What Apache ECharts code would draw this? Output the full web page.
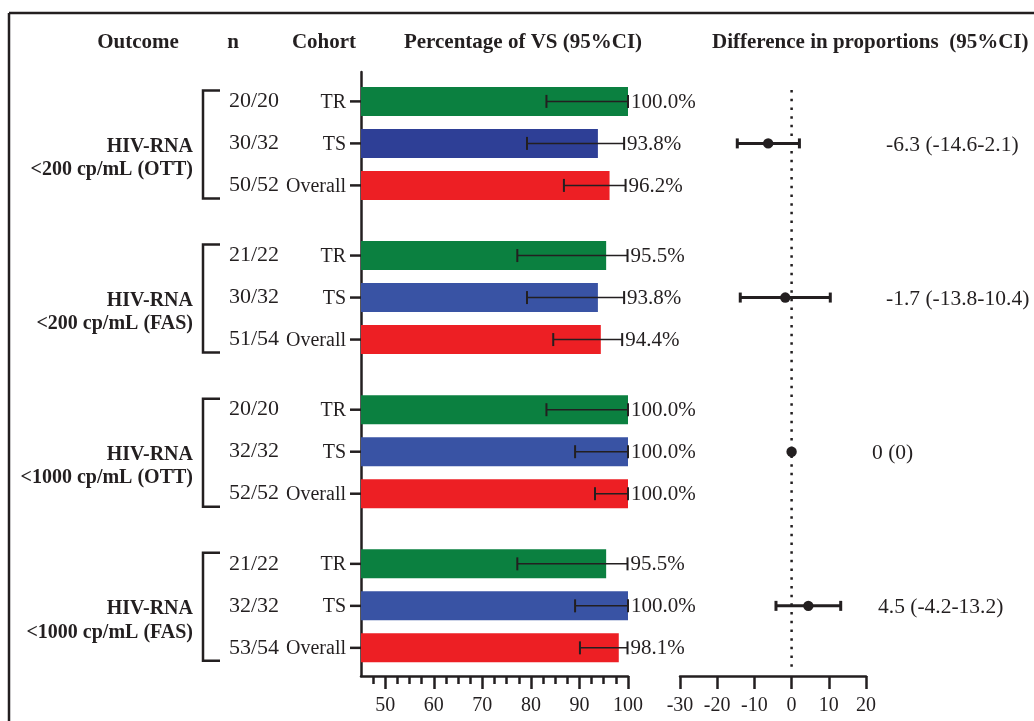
<!DOCTYPE html>
<html>
<head>
<meta charset="utf-8">
<script src="https://cdn.jsdelivr.net/npm/echarts@6/dist/echarts.min.js"></script>
<style>html,body{margin:0;padding:0;background:#fff;}#c{width:1034px;height:721px;}</style>
</head>
<body>
<div id="c"></div>
<script>
// ---------- data ----------
const outcomeLine1 = ['HIV-RNA', 'HIV-RNA', 'HIV-RNA', 'HIV-RNA'];
const outcomeLine2 = ['<200 cp/mL (OTT)', '<200 cp/mL (FAS)', '<1000 cp/mL (OTT)', '<1000 cp/mL (FAS)'];
const cohorts = ['TR', 'TS', 'Overall'];
const nLabels = [
  ['20/20', '30/32', '50/52'],
  ['21/22', '30/32', '51/54'],
  ['20/20', '32/32', '52/52'],
  ['21/22', '32/32', '53/54']
];
const pctVS = [
  [100.0, 93.8, 96.2],
  [95.5, 93.8, 94.4],
  [100.0, 100.0, 100.0],
  [95.5, 100.0, 98.1]
];
const pctLow = [
  [83.2, 79.2, 86.8],
  [77.2, 79.2, 84.6],
  [83.2, 89.1, 93.2],
  [77.2, 89.1, 90.1]
];
const pctHigh = [
  [100.0, 99.2, 99.5],
  [99.9, 99.2, 98.8],
  [100.0, 100.0, 100.0],
  [99.9, 100.0, 99.9]
];
const diffEst = [-6.3, -1.7, 0, 4.5];
const diffLow = [-14.6, -13.8, 0, -4.2];
const diffHigh = [2.1, 10.4, 0, 13.2];
const diffText = ['-6.3 (-14.6-2.1)', '-1.7 (-13.8-10.4)', '0 (0)', '4.5 (-4.2-13.2)'];
const pctTicks = [50, 60, 70, 80, 90, 100];
const pctMinorTicks = [47.5, 52.5, 55, 57.5, 62.5, 65, 67.5, 72.5, 75, 77.5, 82.5, 85, 87.5, 92.5, 95, 97.5];
const diffTicks = [-30, -20, -10, 0, 10, 20];
const headers = ['Outcome', 'n', 'Cohort', 'Percentage of VS (95%CI)', 'Difference in proportions  (95%CI)'];

// ---------- layout / style ----------
const INK = '#231f20';
const SERIF = '"Liberation Serif", "Times New Roman", serif';
const GROUP_STEP = 3.67;
const YMIN = -0.7, YMAX = 13.68;
const XMIN = 45;
const BAR_H = 29;
const cohortColors = [['#0b8040', '#2e3f96', '#ed1f24'],
                      ['#0b8040', '#3953a4', '#ed1f24'],
                      ['#0b8040', '#3953a4', '#ed1f24'],
                      ['#0b8040', '#3953a4', '#ed1f24']];
const diffLabelX = [886, 886, 872, 878];
const rowPos = (g, r) => g * GROUP_STEP + r;

// ---------- build series data ----------
const barData = [];
pctVS.forEach((grp, g) => grp.forEach((v, r) => {
  barData.push({ value: [v, rowPos(g, r), pctLow[g][r], pctHigh[g][r]], g: g, r: r });
}));
const groupData = outcomeLine2.map((t, g) => ({ value: [XMIN, rowPos(g, 0), rowPos(g, 2)], g: g }));
const forestData = diffEst.map((d, g) => ({ value: [d, rowPos(g, 1), diffLow[g], diffHigh[g]], g: g }));

const font = (size, bold) => (bold ? 'bold ' : '') + size + 'px ' + SERIF;

function renderBar(params, api) {
  const item = barData[params.dataIndex];
  const g = item.g, r = item.r;
  const v = api.value(0), pos = api.value(1), lo = api.value(2), hi = api.value(3);
  const p0 = api.coord([XMIN, pos]);
  const p1 = api.coord([v, pos]);
  const pl = api.coord([lo, pos]);
  const ph = api.coord([hi, pos]);
  const y = p0[1];
  return {
    type: 'group',
    children: [
      { type: 'rect', shape: { x: p0[0], y: y - BAR_H / 2, width: p1[0] - p0[0], height: BAR_H },
        style: { fill: cohortColors[g][r] } },
      { type: 'line', shape: { x1: pl[0], y1: y, x2: ph[0], y2: y }, style: { stroke: INK, lineWidth: 1.5 } },
      { type: 'line', shape: { x1: pl[0], y1: y - 6.5, x2: pl[0], y2: y + 6.5 }, style: { stroke: INK, lineWidth: 2 } },
      { type: 'line', shape: { x1: ph[0], y1: y - 6.5, x2: ph[0], y2: y + 6.5 }, style: { stroke: INK, lineWidth: 2 } },
      { type: 'text', style: { x: ph[0] + 3, y: y + 1, text: v.toFixed(1) + '%', fill: INK, font: font(21),
        align: 'left', verticalAlign: 'middle' } },
      // y-axis tick + cohort label + n label
      { type: 'line', shape: { x1: p0[0] - 11, y1: y, x2: p0[0], y2: y }, style: { stroke: INK, lineWidth: 2.5 } },
      { type: 'text', style: { x: p0[0] - 15, y: y + 1, text: cohorts[r], fill: INK, font: font(20),
        align: 'right', verticalAlign: 'middle' } },
      { type: 'text', style: { x: 229, y: y, text: nLabels[g][r], fill: INK, font: font(22),
        align: 'left', verticalAlign: 'middle' } }
    ]
  };
}

function renderGroup(params, api) {
  const g = groupData[params.dataIndex].g;
  const a = api.coord([XMIN, api.value(1)]);
  const b = api.coord([XMIN, api.value(2)]);
  const mid = (a[1] + b[1]) / 2;
  const top = a[1] - 11, bot = b[1] + 13;
  return {
    type: 'group',
    children: [
      { type: 'polyline', shape: { points: [[220, top], [203, top], [203, bot], [220, bot]] },
        style: { stroke: INK, lineWidth: 2.5, fill: null } },
      { type: 'text', style: { x: 193, y: mid + 3, text: outcomeLine1[g], fill: INK, font: font(20, true),
        align: 'right', verticalAlign: 'middle' } },
      { type: 'text', style: { x: 193, y: mid + 26.5, text: outcomeLine2[g], fill: INK, font: font(20, true),
        align: 'right', verticalAlign: 'middle' } }
    ]
  };
}

function renderForest(params, api) {
  const g = forestData[params.dataIndex].g;
  const pos = api.value(1), d = api.value(0), lo = api.value(2), hi = api.value(3);
  const pc = api.coord([d, pos]);
  const pl = api.coord([lo, pos]);
  const ph = api.coord([hi, pos]);
  const y = pc[1];
  const children = [];
  if (lo !== hi) {
    children.push(
      { type: 'line', shape: { x1: pl[0], y1: y, x2: ph[0], y2: y }, style: { stroke: INK, lineWidth: 3 } },
      { type: 'line', shape: { x1: pl[0], y1: y - 5, x2: pl[0], y2: y + 5 }, style: { stroke: INK, lineWidth: 3 } },
      { type: 'line', shape: { x1: ph[0], y1: y - 5, x2: ph[0], y2: y + 5 }, style: { stroke: INK, lineWidth: 3 } }
    );
  }
  children.push(
    { type: 'circle', shape: { cx: pc[0], cy: y, r: 5.2 }, style: { fill: INK } },
    { type: 'text', style: { x: diffLabelX[g], y: y + 2, text: diffText[g], fill: INK, font: font(21.5),
      align: 'left', verticalAlign: 'middle' } }
  );
  return { type: 'group', children: children };
}

function renderZeroLine(params, api) {
  const a = api.coord([0, -0.27]);
  const b = api.coord([0, 13.55]);
  return { type: 'line', shape: { x1: a[0], y1: a[1], x2: b[0], y2: b[1] },
    style: { stroke: INK, lineWidth: 2.5, lineDash: [2.5, 6.2] } };
}

const tickStyle = { color: INK, width: 2.5 };
const labelStyle = { color: INK, fontSize: 20, fontFamily: SERIF, margin: 20 };

const hdr = (i, x, align) => ({ type: 'text', x: x, y: 43,
  style: { text: headers[i], font: font(21, true), fill: INK, align: align, verticalAlign: 'middle' } });

const option = {
  animation: false,
  backgroundColor: '#fff',
  grid: [
    { left: 361, top: 72, width: 267, height: 604 },
    { left: 680, top: 72, width: 186, height: 604 }
  ],
  xAxis: [
    { gridIndex: 0, type: 'value', min: XMIN, max: 100, position: 'bottom',
      axisLine: { onZero: false, lineStyle: tickStyle },
      axisTick: { customValues: pctTicks, length: 13, lineStyle: tickStyle },
      axisLabel: Object.assign({ customValues: pctTicks }, labelStyle),
      splitLine: { show: false } },
    { gridIndex: 0, type: 'value', min: XMIN, max: 100, position: 'bottom',
      axisLine: { show: false, onZero: false },
      axisTick: { customValues: pctMinorTicks, length: 8, lineStyle: tickStyle },
      axisLabel: { show: false },
      splitLine: { show: false } },
    { gridIndex: 1, type: 'value', min: -30, max: 20, position: 'bottom',
      axisLine: { onZero: false, lineStyle: tickStyle },
      axisTick: { customValues: diffTicks, length: 13, lineStyle: tickStyle },
      axisLabel: Object.assign({ customValues: diffTicks }, labelStyle),
      splitLine: { show: false } }
  ],
  yAxis: [
    { gridIndex: 0, type: 'value', inverse: true, min: YMIN, max: YMAX,
      axisLine: { show: true, onZero: false, lineStyle: tickStyle },
      axisTick: { show: false }, axisLabel: { show: false }, splitLine: { show: false } },
    { gridIndex: 1, type: 'value', inverse: true, min: YMIN, max: YMAX, show: false,
      splitLine: { show: false } }
  ],
  graphic: [
    { type: 'line', shape: { x1: 9, y1: 13, x2: 1034, y2: 13 }, style: { stroke: INK, lineWidth: 2.5 } },
    { type: 'line', shape: { x1: 9, y1: 13, x2: 9, y2: 721 }, style: { stroke: INK, lineWidth: 2.5 } },
    hdr(0, 138, 'center'),
    hdr(1, 233, 'center'),
    hdr(2, 324, 'center'),
    hdr(3, 523, 'center'),
    hdr(4, 712, 'left')
  ],
  series: [
    { type: 'custom', xAxisIndex: 0, yAxisIndex: 0, renderItem: renderBar, data: barData, clip: false,
      encode: { x: [0, 2, 3], y: 1 } },
    { type: 'custom', xAxisIndex: 0, yAxisIndex: 0, renderItem: renderGroup, data: groupData, clip: false,
      encode: { x: 0, y: [1, 2] } },
    { type: 'custom', xAxisIndex: 2, yAxisIndex: 1, renderItem: renderZeroLine, data: [[0, 0]], clip: false },
    { type: 'custom', xAxisIndex: 2, yAxisIndex: 1, renderItem: renderForest, data: forestData, clip: false,
      encode: { x: [0, 2, 3], y: 1 } }
  ]
};

const chart = echarts.init(document.getElementById('c'), null, { renderer: 'canvas' });
chart.setOption(option);
</script>
</body>
</html>
